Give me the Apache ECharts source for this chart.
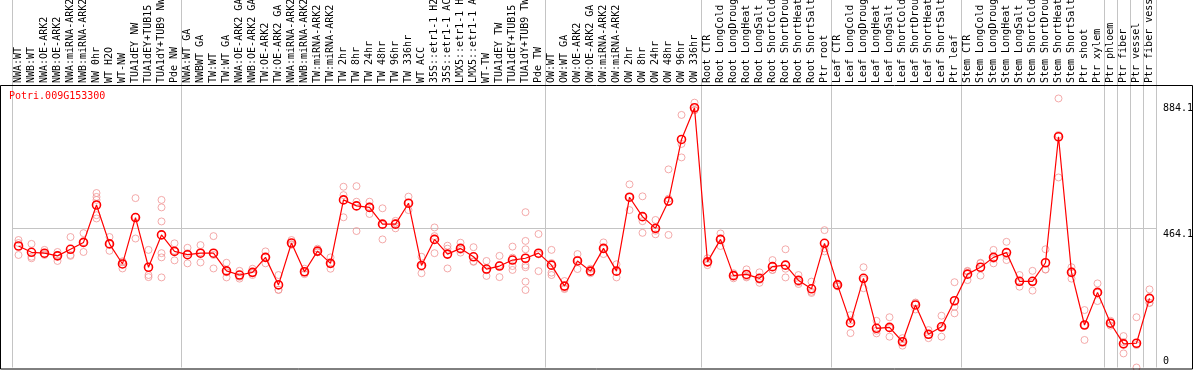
<!DOCTYPE html>
<html>
<head>
<meta charset="utf-8">
<script src="https://cdn.jsdelivr.net/npm/echarts@6/dist/echarts.min.js"></script>
<style>
html, body { margin: 0; padding: 0; background: #fff; }
#chart { width: 1194px; height: 370px; }
</style>
</head>
<body>
<div id="chart"></div>
<script>
var geneName = "Potri.009G153300";

var categories = [
    "NWA:WT", "NWB:WT", "NWA:OE-ARK2", "NWB:OE-ARK2", "NWA:miRNA-ARK2", "NWB:miRNA-ARK2",
    "NW 0hr", "WT H2O", "WT-NW", "TUA1dEY NW", "TUA1dEY+TUB15 NW", "TUA1dY+TUB9 NW", "Pde NW",
    "NWA:WT GA", "NWBWT GA", "TW:WT", "TW:WT GA", "NWA:OE-ARK2 GA", "NWB:OE-ARK2 GA",
    "TW:OE-ARK2", "TW:OE-ARK2 GA", "NWA:miRNA-ARK2 GA", "NWB:miRNA-ARK2 GA", "TW:miRNA-ARK2",
    "TW:miRNA-ARK2 GA", "TW 2hr", "TW 8hr", "TW 24hr", "TW 48hr", "TW 96hr", "TW 336hr",
    "WT ACC", "35S::etr1-1 H2O", "35S::etr1-1 ACC", "LMX5::etr1-1 H2O", "LMX5::etr1-1 ACC",
    "WT-TW", "TUA1dEY TW", "TUA1dEY+TUB15 TW", "TUA1dY+TUB9 TW", "Pde TW",
    "OW:WT", "OW:WT GA", "OW:OE-ARK2", "OW:OE-ARK2 GA", "OW:miRNA-ARK2", "OW:miRNA-ARK2 GA",
    "OW 2hr", "OW 8hr", "OW 24hr", "OW 48hr", "OW 96hr", "OW 336hr",
    "Root CTR", "Root LongCold", "Root LongDrought", "Root LongHeat", "Root LongSalt",
    "Root ShortCold", "Root ShortDrought", "Root ShortHeat", "Root ShortSalt", "Ptr root",
    "Leaf CTR", "Leaf LongCold", "Leaf LongDrought", "Leaf LongHeat", "Leaf LongSalt",
    "Leaf ShortCold", "Leaf ShortDrought", "Leaf ShortHeat", "Leaf ShortSalt", "Ptr leaf",
    "Stem CTR", "Stem LongCold", "Stem LongDrought", "Stem LongHeat", "Stem LongSalt",
    "Stem ShortCold", "Stem ShortDrought", "Stem ShortHeat", "Stem ShortSalt", "Ptr shoot",
    "Ptr xylem", "Ptr phloem", "Ptr fiber", "Ptr vessel", "Ptr fiber vessel"
];

// first category of every experiment block (gray separators)
var groupStarts = [0, 13, 41, 53, 63, 73, 84, 85, 86, 87];

var meanValues = [
    406, 385, 382, 373, 395, 418, 543, 413, 346, 501, 335, 443, 388,
    377, 382, 382, 323, 309, 318, 368, 276, 416, 320, 389, 348, 560, 540, 535, 479, 479, 549,
    341, 428, 379, 398, 370, 329, 339, 359, 365, 382,
    342, 272, 356, 322, 398, 322, 569, 504, 465, 556, 762, 868,
    353, 428, 307, 311, 298, 337, 342, 291, 263, 415,
    276, 149, 298, 131, 134, 86, 209, 111, 136, 223,
    312, 335, 368, 384, 288, 288, 350, 771, 318, 142, 251,
    148, 79, 81, 231
];

var replicateValues = [
    [426, 416, 376], [413, 370, 365], [393, 376, 379], [386, 356, 376], [436, 376, 373],
    [449, 386, 419], [583, 570, 560, 509, 498], [436, 390, 413], [331, 352, 355], [566, 431, 503],
    [393, 309, 302], [560, 535, 488, 382, 368, 301], [415, 358, 390],
    [400, 348, 382], [409, 351, 385], [439, 331, 376], [350, 301, 318], [323, 303, 297],
    [330, 309, 315], [388, 348, 368], [309, 259, 260], [426, 410, 412], [330, 312, 318],
    [397, 385, 385], [368, 330, 346], [604, 576, 502], [606, 554, 456], [554, 513, 538],
    [532, 428, 477], [490, 465, 482], [571, 526, 550], [370, 315, 338], [468, 439, 382],
    [407, 397, 331], [417, 384, 393], [402, 353, 355], [356, 306, 325], [373, 302, 342],
    [404, 339, 326, 367], [519, 423, 395, 342, 335, 287, 259], [446, 322, 378],
    [393, 317, 309, 349], [289, 262, 265], [379, 329, 360], [330, 315, 321], [418, 379, 397],
    [345, 301, 320], [612, 526, 569], [572, 489, 450], [493, 445, 457], [662, 564, 443],
    [844, 747, 702], [885, 860, 860],
    [365, 342, 352], [448, 406, 430], [315, 298, 308], [328, 301, 304], [318, 283, 293],
    [359, 326, 326], [395, 301, 330], [309, 279, 285], [287, 253, 249], [459, 398, 388],
    [281, 271, 276], [175, 115, 157], [335, 265, 294], [156, 114, 123], [168, 103, 131],
    [98, 73, 87], [216, 194, 217], [125, 98, 110], [173, 103, 132], [285, 181, 203],
    [323, 292, 321], [348, 307, 350], [393, 348, 363], [420, 359, 373], [309, 270, 285],
    [323, 257, 284], [395, 328, 327], [899, 777, 635], [335, 297, 322], [192, 92, 142],
    [281, 222, 250],
    [156, 140, 148], [105, 47, 85], [168, 0, 75], [261, 216, 216]
];

var yTickValues = [0, 464.1, 884.1];
var yGridValues = [464.1];

var monoFont = "DejaVu Sans Mono";

var replicatePoints = [];
replicateValues.forEach(function(reps, ind) {
    reps.forEach(function(v) {
        replicatePoints.push([ind, v]);
    });
});

var chart = echarts.init(document.getElementById("chart"));

var option = {
    animation: false,
    title: {
        text: geneName,
        left: 9,
        top: 91,
        padding: 0,
        textStyle: {
            color: "#ff0000",
            fontFamily: monoFont,
            fontSize: 10,
            fontWeight: "normal"
        }
    },
    grid: {
        left: 12,
        right: 38,
        top: 0,
        bottom: 2.5,
        containLabel: false,
        outerBoundsMode: "none"
    },
    xAxis: {
        type: "category",
        data: categories,
        position: "top",
        offset: -85,
        boundaryGap: true,
        axisLine: { show: false },
        axisTick: { show: false },
        axisLabel: {
            interval: 0,
            rotate: 90,
            margin: 2,
            color: "#000",
            fontFamily: monoFont,
            fontSize: 10
        },
        splitLine: {
            show: true,
            interval: function(index) {
                return groupStarts.indexOf(index) >= 0;
            },
            lineStyle: { color: "#c4c4c4", width: 1 }
        }
    },
    yAxis: {
        type: "value",
        position: "right",
        min: 0,
        max: 1228,
        axisLine: { show: false },
        axisTick: { show: false, customValues: yGridValues },
        splitLine: { show: true, lineStyle: { color: "#c4c4c4", width: 1 } },
        axisLabel: {
            customValues: yTickValues,
            margin: 7,
            color: "#000",
            fontFamily: monoFont,
            fontSize: 10,
            formatter: function(v) {
                return v === 0 ? "{b|0}" : "{t|" + v + "}";
            },
            rich: {
                t: { fontFamily: monoFont, fontSize: 10, color: "#000", padding: [11, 0, 0, 0] },
                b: { fontFamily: monoFont, fontSize: 10, color: "#000", padding: [0, 0, 13, 0] }
            }
        }
    },
    graphic: [{
        type: "rect",
        silent: true,
        z: 100,
        shape: { x: 0.5, y: 85.5, width: 1192, height: 283.5 },
        style: { fill: "none", stroke: "#000", lineWidth: 1 }
    }],
    series: [{
        name: "replicates",
        type: "scatter",
        data: replicatePoints,
        symbol: "circle",
        symbolSize: 7,
        z: 2,
        itemStyle: {
            color: "rgba(0,0,0,0)",
            borderColor: "#f09595",
            borderWidth: 1
        }
    }, {
        name: "mean",
        type: "line",
        data: meanValues,
        symbol: "circle",
        symbolSize: 8,
        showAllSymbol: true,
        z: 3,
        lineStyle: { color: "#ff0000", width: 1.2 },
        itemStyle: {
            color: "rgba(0,0,0,0)",
            borderColor: "#ff0000",
            borderWidth: 1.6
        }
    }]
};

chart.setOption(option);
</script>
</body>
</html>
